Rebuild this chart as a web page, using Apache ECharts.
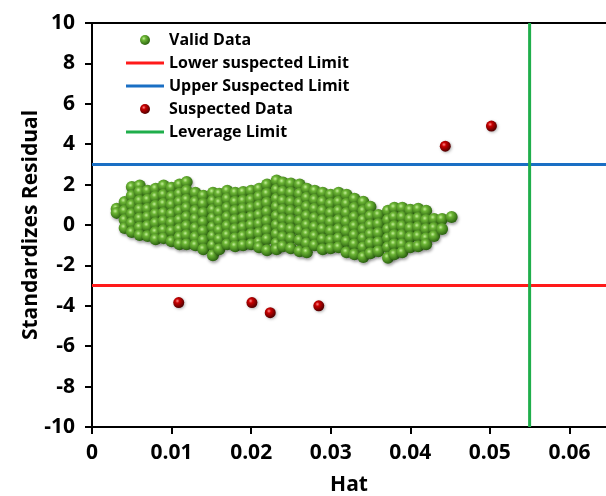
<!DOCTYPE html>
<html>
<head>
<meta charset="utf-8">
<script src="https://cdn.jsdelivr.net/npm/echarts@6/dist/echarts.min.js"></script>
<style>
html,body{margin:0;padding:0;background:#fff;}
#chart{width:606px;height:496px;}
</style>
</head>
<body>
<div id="chart"></div>
<script>
// Axis ticks
const xTicks = [0, 0.01, 0.02, 0.03, 0.04, 0.05, 0.06];
const yTicks = [-10, -8, -6, -4, -2, 0, 2, 4, 6, 8, 10];

// Valid data, read column by column: [hat, list of standardized residuals]
const validColumns = [
  [0.0031, [0.81, 0.6]],
  [0.0041, [1.14, 0.70, 0.25, -0.15]],
  [0.0050, [1.88, 1.45, 1.0, 0.55, 0.1, -0.35]],
  [0.0060, [1.95, 1.65, 1.2, 0.78, 0.33, -0.12, -0.5]],
  [0.0070, [1.7, 1.25, 0.8, 0.4, -0.05, -0.55]],
  [0.0080, [1.8, 1.4, 0.95, 0.55, 0.1, -0.35, -0.7]],
  [0.0090, [1.95, 1.5, 1.05, 0.6, 0.2, -0.25, -0.65]],
  [0.0100, [1.85, 1.4, 1.0, 0.55, 0.12, -0.3, -0.8]],
  [0.0110, [2.0, 1.55, 1.15, 0.7, 0.25, -0.2, -0.6, -0.95]],
  [0.0119, [2.13, 1.7, 1.25, 0.85, 0.4, -0.05, -0.5, -0.95]],
  [0.0130, [1.6, 1.15, 0.7, 0.3, -0.15, -0.6, -1.0]],
  [0.0140, [1.45, 1.05, 0.6, 0.15, -0.3, -0.75, -1.2]],
  [0.0152, [1.6, 1.2, 0.75, 0.35, -0.1, -0.55, -1.0, -1.5]],
  [0.0160, [1.55, 1.1, 0.65, 0.2, -0.25, -0.7, -1.2]],
  [0.0170, [1.7, 1.3, 0.85, 0.4, -0.05, -0.5, -0.95]],
  [0.0180, [1.6, 1.15, 0.7, 0.25, -0.2, -0.65, -1.05]],
  [0.0190, [1.63, 1.2, 0.8, 0.35, -0.1, -0.55, -1.0]],
  [0.0200, [1.7, 1.25, 0.85, 0.4, 0.0, -0.45, -0.95]],
  [0.0210, [1.8, 1.4, 0.95, 0.5, 0.05, -0.4, -0.85, -1.1]],
  [0.0220, [2.0, 1.55, 1.1, 0.65, 0.2, -0.25, -0.7, -1.25]],
  [0.0232, [2.2, 1.75, 1.3, 0.9, 0.45, 0.0, -0.45, -0.9, -1.2]],
  [0.0240, [2.1, 1.65, 1.2, 0.75, 0.3, -0.15, -0.6, -1.05]],
  [0.0250, [2.05, 1.6, 1.15, 0.7, 0.25, -0.2, -0.65, -1.15]],
  [0.0261, [2.0, 1.55, 1.1, 0.65, 0.2, -0.25, -0.75, -1.3]],
  [0.0270, [1.8, 1.35, 0.9, 0.45, 0.0, -0.45, -0.9, -1.35]],
  [0.0280, [1.7, 1.25, 0.8, 0.35, -0.1, -0.55, -1.0]],
  [0.0290, [1.6, 1.15, 0.7, 0.25, -0.2, -0.7, -1.2]],
  [0.0300, [1.5, 1.05, 0.6, 0.15, -0.3, -0.75, -1.15]],
  [0.0310, [1.6, 1.15, 0.7, 0.25, -0.2, -0.65, -1.1]],
  [0.0320, [1.5, 1.05, 0.6, 0.15, -0.3, -0.8, -1.35]],
  [0.0330, [1.3, 0.85, 0.4, -0.05, -0.5, -0.95, -1.45]],
  [0.0341, [1.15, 0.7, 0.25, -0.2, -0.65, -1.1, -1.58]],
  [0.0350, [0.9, 0.45, 0.0, -0.45, -0.9, -1.4]],
  [0.0360, [0.5, 0.05, -0.4, -0.85, -1.3]],
  [0.0372, [0.7, 0.25, -0.2, -0.65, -1.1, -1.62]],
  [0.0380, [0.85, 0.4, -0.05, -0.5, -0.95, -1.45]],
  [0.0390, [0.85, 0.4, -0.05, -0.5, -0.95, -1.35]],
  [0.0400, [0.75, 0.3, -0.15, -0.6, -1.1]],
  [0.0410, [0.8, 0.35, -0.1, -0.55, -1.05]],
  [0.0420, [0.7, 0.25, -0.2, -0.65, -0.95]],
  [0.0430, [0.3, -0.15, -0.55]],
  [0.0440, [0.3, -0.2]],
  [0.0452, [0.4]]
];

// Suspected data
const suspectedHat = [0.0109, 0.0201, 0.0224, 0.0285, 0.0444, 0.0502];
const suspectedRes = [-3.84, -3.84, -4.34, -4.0, 3.9, 4.9];

// Limits
const upperLimit = 3;
const lowerLimit = -3;
const leverageLimit = 0.055;
const xMin = 0, xMax = 0.0646;
const yMin = -10, yMax = 10;

const validData = [];
validColumns.forEach(c => c[1].forEach(y => validData.push([c[0], y])));
const suspectedData = suspectedHat.map((x, i) => [x, suspectedRes[i]]);

const FONT = 'Open Sans';
const greenBall = {
  type: 'radial', x: 0.38, y: 0.35, r: 0.65,
  colorStops: [
    {offset: 0, color: '#c4ef9a'},
    {offset: 0.3, color: '#6cb535'},
    {offset: 1, color: '#2c6410'}
  ]
};
const redBall = {
  type: 'radial', x: 0.38, y: 0.35, r: 0.65,
  colorStops: [
    {offset: 0, color: '#ff8a8a'},
    {offset: 0.3, color: '#c80000'},
    {offset: 1, color: '#520000'}
  ]
};
const lineIcon = 'path://M0,0 L38,0 L38,3 L0,3 Z';

const chart = echarts.init(document.getElementById('chart'), null, {renderer: 'canvas'});
const axisLabelStyle = {color: '#000', fontFamily: FONT, fontWeight: 'bold', fontSize: 21};
chart.setOption({
  animation: false,
  backgroundColor: '#fff',
  grid: {left: 92, right: 0, top: 23, bottom: 69, containLabel: false, outerBoundsMode: 'none'},
  legend: {
    orient: 'vertical',
    left: 126, top: 32, padding: 0,
    itemWidth: 38, itemHeight: 10, itemGap: 7,
    textStyle: {color: '#000', fontFamily: FONT, fontWeight: 'bold', fontSize: 16},
    data: [
      {name: 'Valid Data', icon: 'circle'},
      {name: 'Lower suspected Limit', icon: lineIcon},
      {name: 'Upper Suspected Limit', icon: lineIcon},
      {name: 'Suspected Data', icon: 'circle'},
      {name: 'Leverage Limit', icon: lineIcon}
    ]
  },
  xAxis: [{
    type: 'value', min: xMin, max: xMax, interval: 0.01,
    name: 'Hat', nameLocation: 'middle', nameGap: 48, nameMoveOverlap: false,
    nameTextStyle: {color: '#000', fontFamily: FONT, fontWeight: 'bold', fontSize: 21},
    splitLine: {show: false},
    axisLine: {onZero: false, lineStyle: {color: '#000', width: 2}},
    axisTick: {show: true, inside: false, length: 7, lineStyle: {color: '#000', width: 2}},
    axisLabel: Object.assign({}, axisLabelStyle, {
      margin: 16, showMaxLabel: false,
      formatter: v => {
        const k = Math.round(v * 100);
        if (Math.abs(v * 100 - k) > 1e-6 || xTicks.indexOf(k / 100) < 0) return '';
        return k === 0 ? '0' : (k / 100).toFixed(2);
      }
    })
  }, {
    type: 'value', position: 'top', min: xMin, max: xMax,
    axisLine: {show: true, onZero: false, lineStyle: {color: '#000', width: 2}},
    axisTick: {show: false}, axisLabel: {show: false}, splitLine: {show: false}
  }],
  yAxis: {
    type: 'value', min: yMin, max: yMax, interval: 2,
    name: 'Standardizes Residual', nameLocation: 'middle', nameGap: 50, nameRotate: 90,
    nameMoveOverlap: false,
    nameTextStyle: {color: '#000', fontFamily: FONT, fontWeight: 'bold', fontSize: 21},
    splitLine: {show: false},
    axisLine: {onZero: false, lineStyle: {color: '#000', width: 2}},
    axisTick: {show: true, inside: false, length: 7, lineStyle: {color: '#000', width: 2}},
    axisLabel: Object.assign({}, axisLabelStyle, {
      margin: 17,
      formatter: v => (yTicks.indexOf(v) >= 0 ? String(v) : '')
    })
  },
  series: [
    {
      name: 'Lower suspected Limit', type: 'line', symbol: 'none', z: 1,
      data: [[xMin, lowerLimit], [xMax, lowerLimit]],
      lineStyle: {color: '#ff1a1a', width: 3}, itemStyle: {color: '#ff1a1a'}
    },
    {
      name: 'Upper Suspected Limit', type: 'line', symbol: 'none', z: 1,
      data: [[xMin, upperLimit], [xMax, upperLimit]],
      lineStyle: {color: '#1a6fc4', width: 3}, itemStyle: {color: '#1a6fc4'}
    },
    {
      name: 'Leverage Limit', type: 'line', symbol: 'none', z: 1,
      data: [[leverageLimit, yMin], [leverageLimit, yMax]],
      lineStyle: {color: '#1fae4b', width: 3}, itemStyle: {color: '#1fae4b'}
    },
    {
      name: 'Valid Data', type: 'scatter', symbol: 'circle', symbolSize: 12, z: 3,
      data: validData,
      itemStyle: {color: greenBall, opacity: 1, shadowBlur: 3, shadowColor: 'rgba(0,0,0,0.35)', shadowOffsetX: 1, shadowOffsetY: 2}
    },
    {
      name: 'Suspected Data', type: 'scatter', symbol: 'circle', symbolSize: 11, z: 3,
      data: suspectedData,
      itemStyle: {color: redBall, opacity: 1, shadowBlur: 3, shadowColor: 'rgba(0,0,0,0.3)', shadowOffsetX: 1, shadowOffsetY: 1}
    }
  ]
});
</script>
</body>
</html>
